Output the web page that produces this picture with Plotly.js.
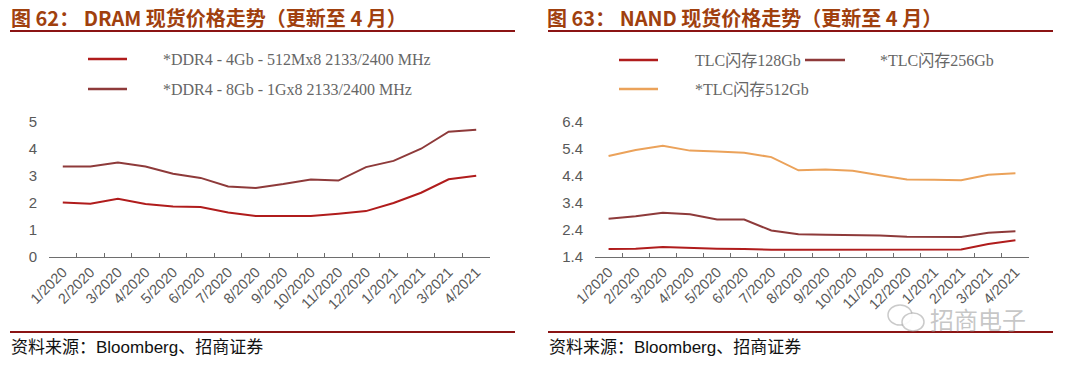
<!DOCTYPE html>
<html>
<head>
<meta charset="utf-8">
<script src="https://cdn.plot.ly/plotly-3.0.1.min.js"></script>
<style>
html,body{margin:0;padding:0;background:#fff;}
#chart{width:1080px;height:365px;}
</style>
</head>
<body>
<div id="chart"></div>
<script>
// ---- data ----
const months = ["1/2020","2/2020","3/2020","4/2020","5/2020","6/2020","7/2020","8/2020","9/2020","10/2020","11/2020","12/2020","1/2021","2/2021","3/2021","4/2021"];

const ddr4_4Gb = [2.02,1.97,2.16,1.96,1.87,1.85,1.65,1.52,1.52,1.52,1.60,1.70,2.00,2.38,2.88,3.01];
const ddr4_8Gb = [3.35,3.35,3.50,3.35,3.08,2.93,2.61,2.56,2.70,2.87,2.83,3.33,3.56,4.01,4.64,4.71];

const tlc128 = [1.70,1.71,1.77,1.73,1.71,1.70,1.67,1.67,1.67,1.67,1.67,1.66,1.66,1.68,1.88,2.02];
const tlc256 = [2.82,2.91,3.04,2.98,2.79,2.79,2.38,2.24,2.22,2.22,2.20,2.15,2.14,2.14,2.30,2.35];
const tlc512 = [5.14,5.36,5.52,5.34,5.31,5.26,5.10,4.61,4.64,4.59,4.43,4.27,4.26,4.24,4.45,4.50];

const leftNames = ["*DDR4 - 4Gb - 512Mx8 2133/2400 MHz","*DDR4 - 8Gb - 1Gx8 2133/2400 MHz"];
const rightNames = ["TLC闪存128Gb","*TLC闪存256Gb","*TLC闪存512Gb"];

const titleLeft = "图 62： DRAM 现货价格走势（更新至 4 月）";
const titleRight = "图 63： NAND 现货价格走势（更新至 4 月）";
const sourceText = "资料来源：Bloomberg、招商证券";

// ---- style ----
const RED = "#B01C1C";
const BROWN = "#8E3A3A";
const ORANGE = "#EBA25A";
const W = 1080, H = 365;
const px = x => x / W;
const py = y => 1 - y / H;

const traces = [
  {x: months, y: ddr4_4Gb, name: leftNames[0], type: "scatter", mode: "lines", line: {color: RED, width: 2}, xaxis: "x", yaxis: "y"},
  {x: months, y: ddr4_8Gb, name: leftNames[1], type: "scatter", mode: "lines", line: {color: BROWN, width: 2}, xaxis: "x", yaxis: "y"},
  {x: months, y: tlc128, name: rightNames[0], type: "scatter", mode: "lines", line: {color: RED, width: 2}, xaxis: "x2", yaxis: "y2"},
  {x: months, y: tlc256, name: rightNames[1], type: "scatter", mode: "lines", line: {color: BROWN, width: 2}, xaxis: "x2", yaxis: "y2"},
  {x: months, y: tlc512, name: rightNames[2], type: "scatter", mode: "lines", line: {color: ORANGE, width: 2}, xaxis: "x2", yaxis: "y2"}
];

const tickFont = {family: "Liberation Sans, Arial, sans-serif", size: 14.5, color: "#595959"};
const yFont = {family: "Liberation Sans, Arial, sans-serif", size: 15, color: "#595959"};

const xBase = {
  type: "category", tickson: "boundaries", ticks: "inside", ticklen: 4, tickcolor: "#6e6e6e",
  showline: true, linecolor: "#6e6e6e", linewidth: 1, tickangle: -45, tickfont: tickFont,
  showgrid: false, zeroline: false, range: [-0.5, 15.5], fixedrange: true
};
const yDomain = [py(257), py(122)];

const legendFont = {family: "Liberation Serif, 'Noto Sans CJK SC', serif", size: 16, color: "#666"};
const titleFont = {family: "'Noto Sans CJK SC', Liberation Sans, sans-serif", size: 20, color: "#A0400E", weight: 700};
const srcFont = {family: "Liberation Sans, 'Noto Sans CJK SC', sans-serif", size: 17, color: "#111"};

const shapes = [];
const annotations = [];
function hline(x0, x1, y, color, w) {
  shapes.push({type: "line", xref: "paper", yref: "paper", x0: px(x0), x1: px(x1), y0: py(y), y1: py(y), line: {color: color, width: w}});
}
function text(x, y, t, font, xanchor) {
  annotations.push({xref: "paper", yref: "paper", x: px(x), y: py(y), text: t, showarrow: false, xanchor: xanchor || "left", yanchor: "middle", font: font});
}
// panel titles and rules
text(9, 17, titleLeft, titleFont);
text(545, 17, titleRight, titleFont);
hline(10, 515, 31, "#8B1414", 2);
hline(548, 1053, 31, "#8B1414", 2);
hline(10, 515, 332, "#8B1414", 2);
hline(548, 1053, 332, "#8B1414", 2);
text(9, 347, sourceText, srcFont);
text(547, 347, sourceText, srcFont);
// legends
hline(88, 127, 59, RED, 2.5);   text(161, 59, leftNames[0], legendFont);
hline(88, 127, 89, BROWN, 2.5); text(161, 89, leftNames[1], legendFont);
hline(619, 658, 60, RED, 2.5);  text(693, 60, rightNames[0], legendFont);
hline(805, 845, 60, BROWN, 2.5); text(878, 60, rightNames[1], legendFont);
hline(619, 658, 89, ORANGE, 2.5); text(693, 89, rightNames[2], legendFont);
// watermark
text(928, 318, "招商电子", {family: "'Noto Sans CJK SC', sans-serif", size: 24, color: "rgba(150,150,150,0.55)"});
shapes.push({type: "circle", xref: "paper", yref: "paper", x0: px(888), x1: px(912), y0: py(325), y1: py(305), line: {color: "rgba(150,150,150,0.5)", width: 1.5}});
shapes.push({type: "circle", xref: "paper", yref: "paper", x0: px(902), x1: px(924), y0: py(331), y1: py(313), line: {color: "rgba(150,150,150,0.5)", width: 1.5}, fillcolor: "rgba(255,255,255,0.9)"});

const layout = {
  width: W, height: H,
  margin: {l: 0, r: 0, t: 0, b: 0},
  paper_bgcolor: "#fff", plot_bgcolor: "rgba(0,0,0,0)",
  showlegend: false,
  xaxis: Object.assign({}, xBase, {domain: [px(49), px(490)], anchor: "y"}),
  yaxis: {domain: yDomain, range: [0, 5], dtick: 1, tick0: 0, showgrid: false, zeroline: false, showline: false, ticks: "", tickfont: yFont, ticklabelstandoff: 11, anchor: "x", fixedrange: true},
  xaxis2: Object.assign({}, xBase, {domain: [px(595), px(1029)], anchor: "y2"}),
  yaxis2: {domain: yDomain, range: [1.4, 6.4], dtick: 1, tick0: 1.4, tickformat: ".1f", showgrid: false, zeroline: false, showline: false, ticks: "", tickfont: yFont, ticklabelstandoff: 11, anchor: "x2", fixedrange: true},
  shapes: shapes,
  annotations: annotations
};

Plotly.newPlot("chart", traces, layout, {displayModeBar: false, staticPlot: true});
</script>
</body>
</html>
